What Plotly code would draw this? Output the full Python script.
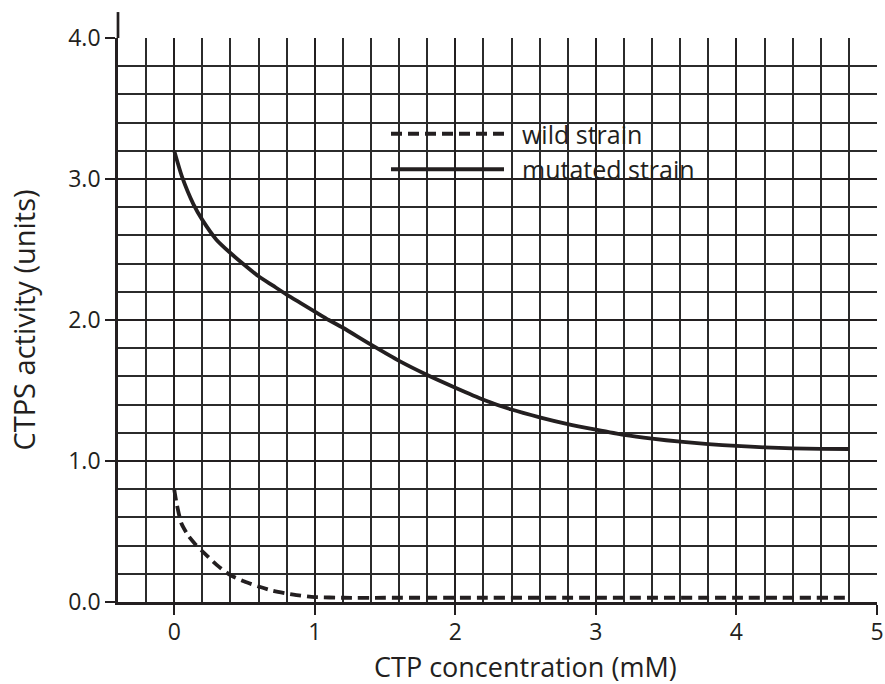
import plotly.graph_objects as go

# CTP concentration (mM) and CTPS activity (units)
wild_x = [0, 0.015, 0.05, 0.1, 0.15, 0.2, 0.3, 0.4, 0.5, 0.6, 0.7, 0.8, 0.9, 1.0, 1.2, 1.5, 2.0, 3.0, 4.0, 4.8]
wild_y = [0.8, 0.71, 0.56, 0.47, 0.41, 0.36, 0.265, 0.19, 0.145, 0.11, 0.08, 0.06, 0.045, 0.035, 0.03, 0.03, 0.03, 0.03, 0.03, 0.03]

mut_x = [0, 0.054, 0.137, 0.2, 0.3, 0.4, 0.5, 0.6, 0.7, 0.8, 0.9, 1.0, 1.1, 1.2, 1.4, 1.6, 1.8,
         2.0, 2.2, 2.4, 2.6, 2.8, 3.0, 3.2, 3.4, 3.6, 3.8, 4.0, 4.2, 4.4, 4.6, 4.8]
mut_y = [3.2, 3.02, 2.82, 2.71, 2.57, 2.475, 2.39, 2.31, 2.245, 2.18, 2.12, 2.06, 2.0, 1.945, 1.825, 1.71, 1.61,
         1.52, 1.435, 1.365, 1.31, 1.262, 1.222, 1.185, 1.158, 1.137, 1.12, 1.107, 1.097, 1.09, 1.086, 1.085]

series_names = ["wild strain", "mutated strain"]
x_ticks = [0, 1, 2, 3, 4, 5]
y_ticks = [0.0, 1.0, 2.0, 3.0, 4.0]

INK = "#231f20"
FONT = "Open Sans"
TICK_SIZE = 23
TITLE_SIZE = 27
LEGEND_SIZE = 25
GAP = "\u00a0\u00a0"  # small gap between legend key and its label

fig = go.Figure()
fig.add_trace(go.Scatter(x=wild_x, y=wild_y, mode="lines", name=GAP + series_names[0],
                         line=dict(color=INK, width=3.8, dash="11px,6px", shape="spline", smoothing=0.6)))
fig.add_trace(go.Scatter(x=mut_x, y=mut_y, mode="lines", name=GAP + series_names[1],
                         line=dict(color=INK, width=3.8, shape="spline", smoothing=0.6)))

axis_common = dict(
    showline=True, linecolor=INK, linewidth=2.7,
    ticks="outside", ticklen=10, tickwidth=2.2, tickcolor=INK,
    showgrid=True, gridcolor=INK, gridwidth=2.0,
    zeroline=False, automargin=False,
    tickfont=dict(family=FONT, size=TICK_SIZE, color=INK),
)
minor_grid = dict(dtick=0.2, tick0=0, showgrid=True, gridcolor="#2b2b2b", gridwidth=1.5, ticks="")

fig.update_layout(
    width=885, height=684,
    margin=dict(l=118, r=8, t=38, b=82),
    paper_bgcolor="white", plot_bgcolor="white",
    font=dict(family=FONT, color=INK),
    xaxis=dict(range=[-0.4, 5], tickvals=x_ticks, ticktext=[str(v) for v in x_ticks],
               minor=minor_grid, ticklabelstandoff=-2, **axis_common),
    yaxis=dict(range=[0, 4.0], tickvals=y_ticks, ticktext=[f"{v:.1f}" for v in y_ticks],
               minor=minor_grid,
               title=dict(text="CTPS activity (units)", font=dict(family=FONT, size=TITLE_SIZE + 2, color=INK), standoff=25),
               **axis_common),
    showlegend=True,
    legend=dict(x=(386 - 118) / 759, y=(602 - 111) / 564, xanchor="left", yanchor="top",
                bgcolor="rgba(0,0,0,0)",
                font=dict(family=FONT, size=LEGEND_SIZE, color=INK), itemwidth=113, tracegroupgap=0),
    shapes=[
        # white backing box for the legend (covers grid only)
        dict(type="rect", xref="paper", yref="paper",
             x0=(385 - 118) / 759, x1=(723 - 118) / 759, y0=(602 - 193) / 564, y1=(602 - 113) / 564,
             fillcolor="white", line=dict(width=0), layer="between"),
        # y-axis line extension above the grid
        dict(type="line", xref="paper", yref="paper", x0=0, x1=0, y0=1, y1=1.046,
             line=dict(color=INK, width=2.7)),
    ],
    annotations=[
        dict(text="CTP concentration (mM)", x=2.5, xref="x", y=(602 - 666) / 564, yref="paper",
             showarrow=False, xanchor="center", yanchor="middle",
             font=dict(family=FONT, size=TITLE_SIZE, color=INK)),
    ],
)

fig.write_html("out.html", config={"displayModeBar": False},
               post_script="document.body.style.margin='0';")
